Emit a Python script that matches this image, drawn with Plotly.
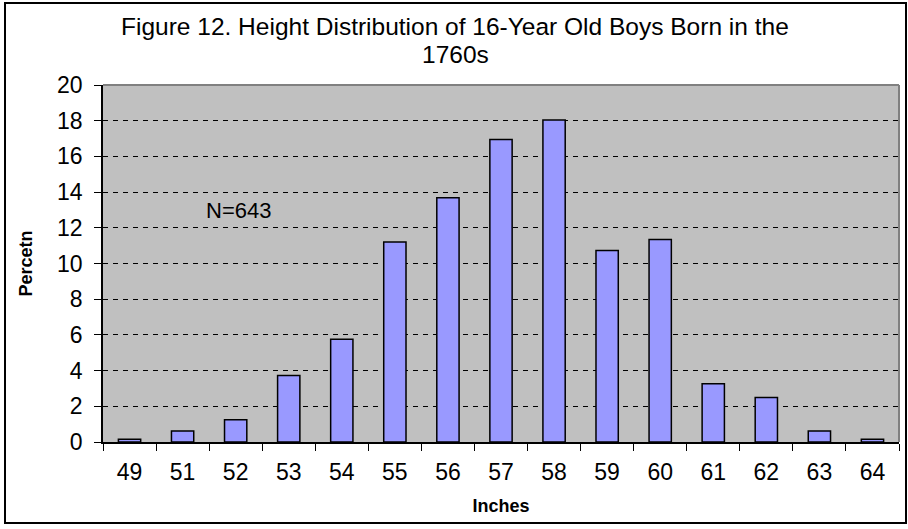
import plotly.graph_objects as go

# Height classes (inches) and share of boys in each class (percent), N=643
inches = ["49", "51", "52", "53", "54", "55", "56", "57", "58", "59", "60", "61", "62", "63", "64"]
percent = [0.16, 0.62, 1.24, 3.73, 5.75, 11.20, 13.69, 16.95, 18.04, 10.73, 11.35, 3.27, 2.49, 0.62, 0.16]

title_lines = ["Figure 12. Height Distribution of 16-Year Old Boys Born in the", "1760s"]
note_text = "N=643"

W, H = 908, 529
L, R, T, B = 103, 9, 85, 87
FONT = "Liberation Sans, Arial, sans-serif"

fig = go.Figure(
    go.Bar(
        x=inches,
        y=percent,
        width=0.42,
        marker=dict(color="#9999FF", line=dict(color="black", width=1.5)),
    )
)

pw = W - L - R
ph = H - T - B


def px_x(v):
    return (v - L) / pw


def px_y(v):
    return (H - B - v) / ph


annotations = [
    dict(text=title_lines[0], xref="paper", yref="paper",
         x=px_x(455), y=px_y(27), xanchor="center", yanchor="middle",
         showarrow=False, font=dict(size=24.5, family=FONT)),
    dict(text=title_lines[1], xref="paper", yref="paper",
         x=px_x(455), y=px_y(54), xanchor="center", yanchor="middle",
         showarrow=False, font=dict(size=24.5, family=FONT)),
    dict(text=note_text, xref="paper", yref="y",
         x=px_x(238), y=12.95, xanchor="center", yanchor="middle",
         showarrow=False, font=dict(size=22, family=FONT)),
]

fig.update_layout(
    width=W,
    height=H,
    margin=dict(l=L, r=R, t=T, b=B),
    paper_bgcolor="white",
    plot_bgcolor="#C0C0C0",
    showlegend=False,
    font=dict(family=FONT, color="black"),
    annotations=annotations,
    shapes=[
        # outer chart border
        dict(type="rect", xref="paper", yref="paper",
             x0=px_x(5), x1=px_x(906), y0=px_y(523), y1=px_y(3),
             line=dict(color="black", width=2), layer="above"),
        # plot area border (top and right)
        dict(type="line", xref="paper", yref="paper",
             x0=0, x1=1, y0=1, y1=1, line=dict(color="#808080", width=2)),
        dict(type="line", xref="paper", yref="paper",
             x0=1, x1=1, y0=0, y1=1, line=dict(color="#808080", width=2)),
    ],
)

fig.update_xaxes(
    type="category",
    showline=True,
    linecolor="black",
    linewidth=1.5,
    ticks="outside",
    tickson="boundaries",
    ticklen=7,
    tickcolor="black",
    tickwidth=1,
    ticklabelstandoff=9,
    tickfont=dict(size=23, family=FONT),
    showgrid=False,
    title=dict(text="<b>Inches</b>", font=dict(size=18, family=FONT), standoff=15),
)

fig.update_yaxes(
    range=[0, 20],
    dtick=2,
    showline=True,
    linecolor="black",
    linewidth=1.5,
    ticks="outside",
    ticklen=7,
    tickcolor="black",
    tickwidth=1,
    ticklabelstandoff=7,
    tickfont=dict(size=23, family=FONT),
    showgrid=True,
    gridcolor="black",
    gridwidth=1,
    griddash="5px,5px",
    zeroline=False,
    title=dict(text="<b>Percetn</b>", font=dict(size=18, family=FONT), standoff=20),
)

fig.write_html("out.html")
